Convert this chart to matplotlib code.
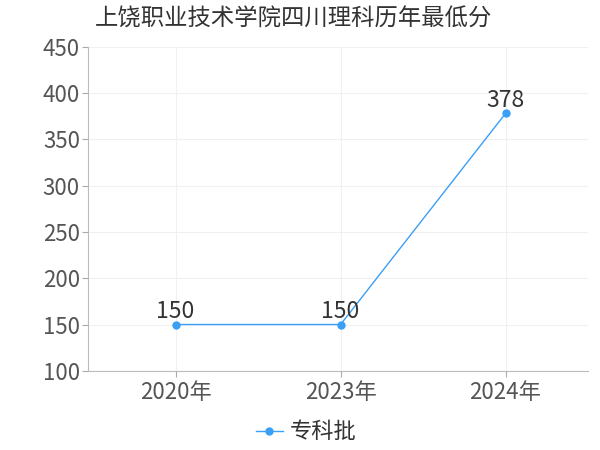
import numpy as np
from matplotlib import pyplot as plt

plt.rcParams['font.family'] = ['Noto Sans CJK SC', 'DejaVu Sans']

years = ['2020年', '2023年', '2024年']
scores = [150, 150, 378]
series_name = '专科批'
title = '上饶职业技术学院四川理科历年最低分'

blue = '#3a9ff5'

fig = plt.figure(figsize=(6, 4.5), dpi=100)
ax = fig.add_axes([0.147, 0.176, 0.833, 0.72])

x = np.arange(len(years))
ax.plot(x, scores, '-o', color=blue, lw=1, markersize=5, label=series_name)
for xi, v in zip(x, scores):
    ax.annotate(str(v), (xi, v), xytext=(0, 1), textcoords='offset points',
                ha='center', va='bottom', fontsize=16.5, color='#333333')

ax.set_xlim(-0.53, 2.5)
ax.set_ylim(100, 450)
ax.set_yticks(np.arange(100, 451, 50))
ax.set_xticks(x)
ax.set_xticklabels(years)
ax.tick_params(axis='both', labelsize=16, colors='#aaaaaa', labelcolor='#555555', length=4)
ax.tick_params(axis='y', pad=2)
ax.grid(True, color='#f0f0f0', lw=0.8)
ax.set_axisbelow(True)
for s in ('top', 'right'):
    ax.spines[s].set_visible(False)
for s in ('left', 'bottom'):
    ax.spines[s].set_color('#bbbbbb')

fig.text(0.158, 0.958, title, fontsize=16.8, color='#333333', va='center', ha='left')
fig.legend(loc='lower center', bbox_to_anchor=(0.51, -0.03), frameon=False, fontsize=16,
           handlelength=1.2, handletextpad=0.3, labelcolor='#333333')

fig.savefig('out.png', dpi=100)
